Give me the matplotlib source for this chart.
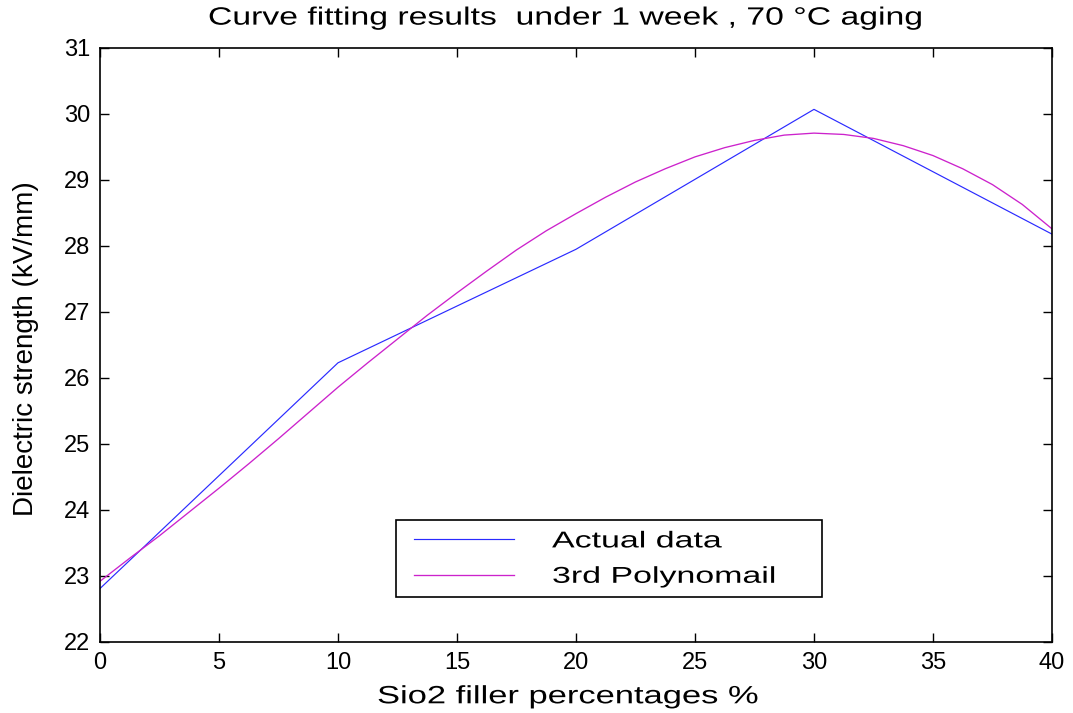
import numpy as np

import matplotlib
matplotlib.use('Agg')
import matplotlib.pyplot as plt
from matplotlib.lines import Line2D
from matplotlib.legend_handler import HandlerLine2D
from matplotlib.patheffects import AbstractPathEffect
from matplotlib.transforms import Affine2D

plt.rcParams['font.family'] = ['Liberation Sans', 'DejaVu Sans']

# measured points
filler_pct = [0, 10, 20, 30, 40]
strength = [22.81, 26.23, 27.95, 30.07, 28.18]

# 3rd order polynomial curve, every 1.25 %
fit_x = [0, 1.25, 2.5, 3.75, 5, 6.25, 7.5, 8.75, 10, 11.25, 12.5, 13.75,
         15, 16.25, 17.5, 18.75, 20, 21.25, 22.5, 23.75, 25, 26.25, 27.5,
         28.75, 30, 31.25, 32.5, 33.75, 35, 36.25, 37.5, 38.75, 40]
fit_y = [22.92, 23.27, 23.61, 23.97, 24.33, 24.70, 25.08, 25.47, 25.86,
         26.23, 26.59, 26.95, 27.29, 27.62, 27.94, 28.23, 28.49, 28.74,
         28.97, 29.17, 29.35, 29.49, 29.60, 29.68, 29.71, 29.69, 29.63,
         29.52, 29.37, 29.17, 28.93, 28.63, 28.26]

x_ticks = [0, 5, 10, 15, 20, 25, 30, 35, 40]
y_ticks = [22, 23, 24, 25, 26, 27, 28, 29, 30, 31]


class Stretch(AbstractPathEffect):
    # widen the glyphs along the text direction (the old export looks stretched)
    def __init__(self, sx):
        super().__init__()
        self.sx = sx

    def draw_path(self, renderer, gc, tpath, affine, rgbFace=None):
        renderer.draw_path(gc, tpath, Affine2D().scale(self.sx, 1) + affine, rgbFace)


fig = plt.figure(figsize=(10.73, 7.13), dpi=100)
ax = fig.add_axes([0.0932, 0.0996, 0.8872, 0.8331])

ax.plot(filler_pct, strength, color='#2a2aff', lw=0.85, label='Actual data')
ax.plot(fit_x, fit_y, color='#cc22cc', lw=0.95, label='3rd Polynomail')

ax.set_xlim(0, 40)
ax.set_ylim(22, 31)
ax.set_xticks(x_ticks)
ax.set_yticks(y_ticks)
ax.tick_params(direction='in', length=6.5, width=1, top=True, right=True,
               labelsize=17, pad=7)
for s in ax.spines.values():
    s.set_linewidth(1.2)

title = ax.set_title('Curve fitting results  under 1 week , 70 \u00b0C aging',
                     fontsize=18, x=0.1134, y=1.0253, ha='left', va='baseline')
title.set_path_effects([Stretch(1.35)])

xl = ax.set_xlabel('Sio2 filler percentages %', fontsize=18)
ax.xaxis.set_label_coords(0.291, -0.1032)
xl.set_ha('left')
xl.set_va('baseline')
xl.set_path_effects([Stretch(1.38)])

yl = ax.set_ylabel('Dielectric strength (kV/mm)', fontsize=20)
ax.yaxis.set_label_coords(-0.0777, 0.4933)
yl.set_va('center')

leg = ax.legend(loc='lower left', bbox_to_anchor=(0.3109, 0.0758, 0.4475, 0.138),
                mode='expand', fontsize=16.5, fancybox=False, framealpha=1,
                edgecolor='black', handlelength=4.75, handletextpad=1.66,
                labelspacing=0.54, borderpad=0.4, borderaxespad=0,
                handler_map={Line2D: HandlerLine2D(xpad=0.38)})
leg.get_frame().set_linewidth(1.2)
for t in leg.get_texts():
    t.set_path_effects([Stretch(1.48)])

plt.savefig('out.png', dpi=100, facecolor='white')
plt.close()
